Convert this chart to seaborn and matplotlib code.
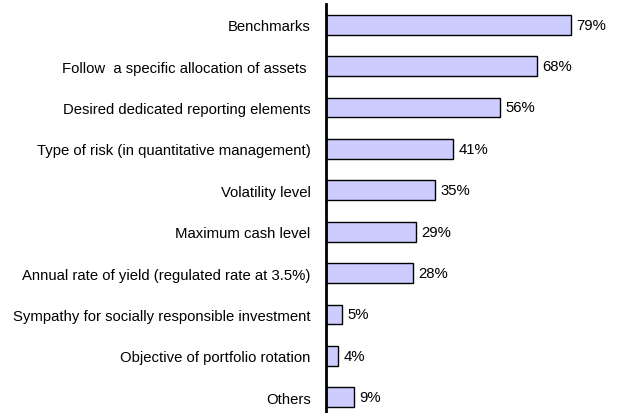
import matplotlib
matplotlib.use("Agg")
import matplotlib.pyplot as plt
import seaborn as sns
import pandas as pd

categories = [
    "Benchmarks",
    "Follow  a specific allocation of assets ",
    "Desired dedicated reporting elements",
    "Type of risk (in quantitative management)",
    "Volatility level",
    "Maximum cash level",
    "Annual rate of yield (regulated rate at 3.5%)",
    "Sympathy for socially responsible investment",
    "Objective of portfolio rotation",
    "Others",
]
shares = [79, 68, 56, 41, 35, 29, 28, 5, 4, 9]

df = pd.DataFrame({"category": categories, "share": shares})

sns.set_theme(style="white")
plt.rcParams["font.family"] = ["Liberation Sans", "DejaVu Sans"]

fig = plt.figure(figsize=(6.35, 4.14), dpi=100)
ax = fig.add_axes([326 / 635, -0.012, 310 / 635, 1.0])

sns.barplot(
    data=df, x="share", y="category", orient="h", ax=ax,
    color="#CCCCFF", saturation=1, edgecolor="black", linewidth=1.0, width=0.48,
)

ax.set_xlim(0, 100)
ax.set_ylim(9.5, -0.5)
ax.set_xlabel("")
ax.set_ylabel("")
ax.set_xticks([])
ax.tick_params(axis="y", length=0, pad=11, labelsize=10.7, colors="black")

for s in ["top", "right", "bottom"]:
    ax.spines[s].set_visible(False)
ax.spines["left"].set_color("black")
ax.spines["left"].set_linewidth(2)

for i, v in enumerate(shares):
    ax.annotate(f"{v}%", xy=(v, i), xytext=(4, 0), textcoords="offset points",
                va="center", ha="left", fontsize=10.7, color="black")

fig.savefig("out.png", dpi=100)
